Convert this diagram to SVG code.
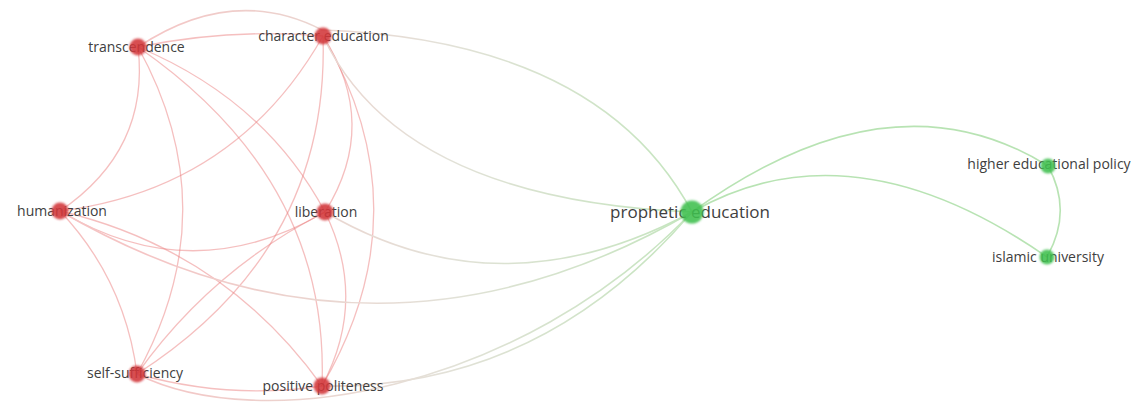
<svg xmlns="http://www.w3.org/2000/svg" width="1144" height="409" viewBox="0 0 1144 409">
<defs>
<style>
.r{fill:none;stroke:#ec8080;stroke-opacity:.5;stroke-width:1.3}
.m{fill:none;stroke:url(#mix);stroke-width:1.6}
.g{fill:none;stroke:#a6dca0;stroke-opacity:.8;stroke-width:1.6}
.lab{font-family:"Open Sans","Liberation Sans",sans-serif;font-size:14px;fill:#404040;text-anchor:middle}
.big{font-size:17px}
.rn{fill:#d2353a;fill-opacity:.88;filter:url(#soft)}
.gn{fill:#3fbf4e;fill-opacity:.88;filter:url(#soft)}
</style>
<linearGradient id="mix" gradientUnits="userSpaceOnUse" x1="140" y1="0" x2="692" y2="0">
<stop offset="0" stop-color="#f5c4c4"/>
<stop offset="0.55" stop-color="#e3e1d8"/>
<stop offset="1" stop-color="#c4e5be"/>
</linearGradient>
<filter id="soft" x="-50%" y="-50%" width="200%" height="200%">
<feGaussianBlur stdDeviation="0.9"/>
</filter>
</defs>
<rect width="1144" height="409" fill="#ffffff"/>
<g id="connectors">
<path class="r" d="M138,47 Q230,28 323,36"/>
<path class="r" d="M138,47 Q150,150 60,211"/>
<path class="r" d="M138,47 Q265,100 325,212"/>
<path class="r" d="M138,47 Q228,210 137,374"/>
<path class="r" d="M138,47 Q330,180 322,386"/>
<path class="r" d="M323,36 Q236,189 60,211"/>
<path class="r" d="M323,36 Q380,124 325,212"/>
<path class="r" d="M323,36 Q330,250 137,374"/>
<path class="r" d="M323,36 Q425,210 322,386"/>
<path class="r" d="M60,211 Q192,290 325,212"/>
<path class="r" d="M60,211 Q125,280 137,374"/>
<path class="r" d="M60,211 Q225,250 322,386"/>
<path class="r" d="M325,212 Q211,270 137,374"/>
<path class="r" d="M325,212 Q368,300 322,386"/>
<path class="r" d="M137,374 Q230,400 322,386"/>
<path class="m" d="M138,47 Q233,-16 322,30 Q600,40 692,212"/>
<path class="m" d="M323,36 Q400,200 692,212"/>
<path class="m" d="M60,211 Q376,395 692,212"/>
<path class="m" d="M325,212 Q500,315 692,212"/>
<path class="m" d="M322,386 Q540,390 692,212"/>
<path class="m" d="M137,374 C260,436 520,392 692,212"/>
<path class="g" d="M692,212 Q891,68 1048,166"/>
<path class="g" d="M692,212 Q851,121 1047,257"/>
<path class="g" d="M1048,166 Q1073,211 1047,257"/>
</g>
<g id="node-transcendence"><text class="lab" x="136.5" y="52">transcendence</text><circle class="rn" cx="138" cy="47" r="8.5"/></g>
<g id="node-character-education"><text class="lab" x="323.5" y="41">character education</text><circle class="rn" cx="323" cy="36" r="8.5"/></g>
<g id="node-humanization"><text class="lab" x="62" y="216">humanization</text><circle class="rn" cx="60" cy="211" r="8.5"/></g>
<g id="node-liberation"><text class="lab" x="326" y="217">liberation</text><circle class="rn" cx="325" cy="212" r="8.5"/></g>
<g id="node-self-sufficiency"><text class="lab" x="135" y="378">self-sufficiency</text><circle class="rn" cx="137" cy="374" r="8.5"/></g>
<g id="node-positive-politeness"><text class="lab" x="323" y="391">positive politeness</text><circle class="rn" cx="322" cy="386" r="8.5"/></g>
<g id="node-prophetic-education"><text class="lab big" x="690" y="218">prophetic education</text><circle class="gn" cx="692" cy="212" r="11.5"/></g>
<g id="node-higher-educational-policy"><text class="lab" x="1049" y="169">higher educational policy</text><circle class="gn" cx="1048" cy="166" r="7.5"/></g>
<g id="node-islamic-university"><text class="lab" x="1048" y="262">islamic university</text><circle class="gn" cx="1047" cy="257" r="7.5"/></g>
</svg>
